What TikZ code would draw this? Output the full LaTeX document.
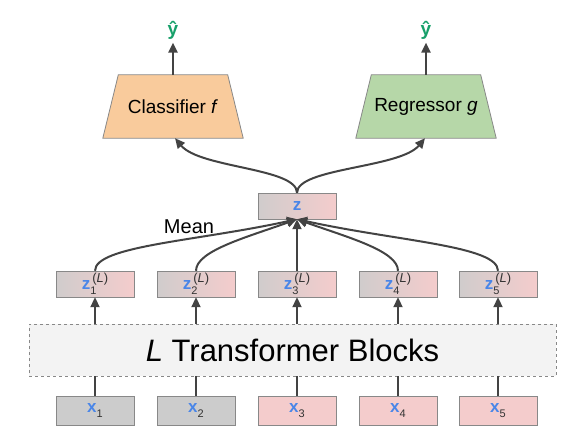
\documentclass[tikz,border=0pt]{standalone}
\usepackage{fontspec}
\setmainfont{Liberation Sans}
\usetikzlibrary{arrows.meta,backgrounds}

\definecolor{boxgray}{HTML}{CCCCCC}
\definecolor{boxpink}{HTML}{F4CCCC}
\definecolor{clforange}{HTML}{F9CB9C}
\definecolor{reggreen}{HTML}{B6D7A8}
\definecolor{tfgray}{HTML}{F3F3F3}
\definecolor{linegray}{HTML}{888888}
\definecolor{arrowgray}{HTML}{434343}
\definecolor{tokblue}{HTML}{4A86E8}
\definecolor{outgreen}{HTML}{17A06A}
\definecolor{subgray}{HTML}{333333}

\newcommand{\tokz}[1]{\textcolor{tokblue}{\textbf{z}}\rlap{\raisebox{-5pt}{\fontsize{11}{11}\selectfont\color{subgray}#1}}\kern2pt\raisebox{7pt}{\fontsize{13}{13}\selectfont\color{subgray}(\textit{L})}}
\newcommand{\tokx}[1]{\textcolor{tokblue}{\textbf{x}}\raisebox{-5pt}{\fontsize{11}{11}\selectfont\color{subgray}#1}}

\begin{document}
\begin{tikzpicture}
	[
		x = 1pt, y = -1pt,
		tok/.style = {draw=linegray, minimum width=78pt, minimum height=26pt, inner sep=0pt, font=\fontsize{17}{17}\selectfont},
		graytok/.style = {tok, fill=boxgray},
		pinktok/.style = {tok, fill=boxpink},
		mixtok/.style = {tok, left color=boxgray!90!boxpink, right color=boxpink},
		head/.style = {minimum width=140pt, minimum height=63pt, inner sep=0pt, font=\fontsize{19}{19}\selectfont},
		headshape/.style = {draw=linegray, line width=0.8pt},
		flow/.style = {draw=arrowgray, line width=2pt, -{Triangle[length=10pt,width=9pt]}},
		link/.style = {draw=arrowgray, line width=2pt},
		yhat/.style = {text=outgreen, font=\fontsize{19}{19}\selectfont\bfseries}]

	\useasboundingbox (0,0) rectangle (588,436);

	% inputs
	\node[graytok, minimum height=29pt] (x1) at (95,410.5) {\tokx{1}};
	\node[graytok, minimum height=29pt] (x2) at (196,410.5) {\tokx{2}};
	\node[pinktok, minimum height=29pt] (x3) at (297,410.5) {\tokx{3}};
	\node[pinktok, minimum height=29pt] (x4) at (398,410.5) {\tokx{4}};
	\node[pinktok, minimum height=29pt] (x5) at (498,410.5) {\tokx{5}};

	% encoder
	\node[draw=linegray, dashed, fill=tfgray, minimum width=527pt, minimum height=52pt, inner sep=0pt,
		font=\fontsize{31}{31}\selectfont] (tf) at (292.5,350) {\textit{L} Transformer Blocks};

	% outputs of the last block
	\node[mixtok] (zL1) at (95,284) {\tokz{1}};
	\node[mixtok] (zL2) at (196,284) {\tokz{2}};
	\node[mixtok] (zL3) at (297,284) {\tokz{3}};
	\node[mixtok] (zL4) at (398,284) {\tokz{4}};
	\node[mixtok] (zL5) at (498,284) {\tokz{5}};

	\node[mixtok] (z) at (297,206) {\textcolor{tokblue}{\textbf{z}}};
	\node[font=\fontsize{20}{20}\selectfont] (mean) at (189,227) {Mean};

	% heads
	\node[head] (clf) at (173,106.5) {Classifier \textit{f}};
	\node[head] (reg) at (426,106.5) {Regressor \textit{g}};
	\node[yhat] (y1) at (173,30) {ŷ};
	\node[yhat] (y2) at (426,30) {ŷ};

	\begin{scope}[on background layer]
		\draw[headshape, fill=clforange] (clf.south west) -- (clf.south east) -- ([xshift=-15.5pt]clf.north east) -- ([xshift=15.5pt]clf.north west) -- cycle;
		\draw[headshape, fill=reggreen] (reg.south west) -- (reg.south east) -- ([xshift=-15.5pt]reg.north east) -- ([xshift=15.5pt]reg.north west) -- cycle;
	\end{scope}

	\draw[link] (x1.north) -- (x1.north |- tf.south);
	\draw[link] (x2.north) -- (x2.north |- tf.south);
	\draw[link] (x3.north) -- (x3.north |- tf.south);
	\draw[link] (x4.north) -- (x4.north |- tf.south);
	\draw[link] (x5.north) -- (x5.north |- tf.south);

	\draw[flow] (zL1.south |- tf.north) -- (zL1.south);
	\draw[flow] (zL2.south |- tf.north) -- (zL2.south);
	\draw[flow] (zL3.south |- tf.north) -- (zL3.south);
	\draw[flow] (zL4.south |- tf.north) -- (zL4.south);
	\draw[flow] (zL5.south |- tf.north) -- (zL5.south);

	% mean pooling
	\draw[flow] (zL1.north) .. controls +(0,-25) and +(-100,22) .. (z.south);
	\draw[flow] (zL2.north) .. controls +(0,-20) and +(-50,18) .. (z.south);
	\draw[flow] (zL3.north) -- (z.south);
	\draw[flow] (zL4.north) .. controls +(0,-20) and +(50,18) .. (z.south);
	\draw[flow] (zL5.north) .. controls +(0,-25) and +(100,22) .. (z.south);

	\draw[flow] (z.north) .. controls +(0,-25) and +(25,30) .. ([xshift=2pt]clf.south);
	\draw[flow] (z.north) .. controls +(0,-25) and +(-25,30) .. ([xshift=-1pt]reg.south);

	\draw[flow] (clf.north) -- (y1.south);
	\draw[flow] (reg.north) -- (y2.south);
\end{tikzpicture}
\end{document}
